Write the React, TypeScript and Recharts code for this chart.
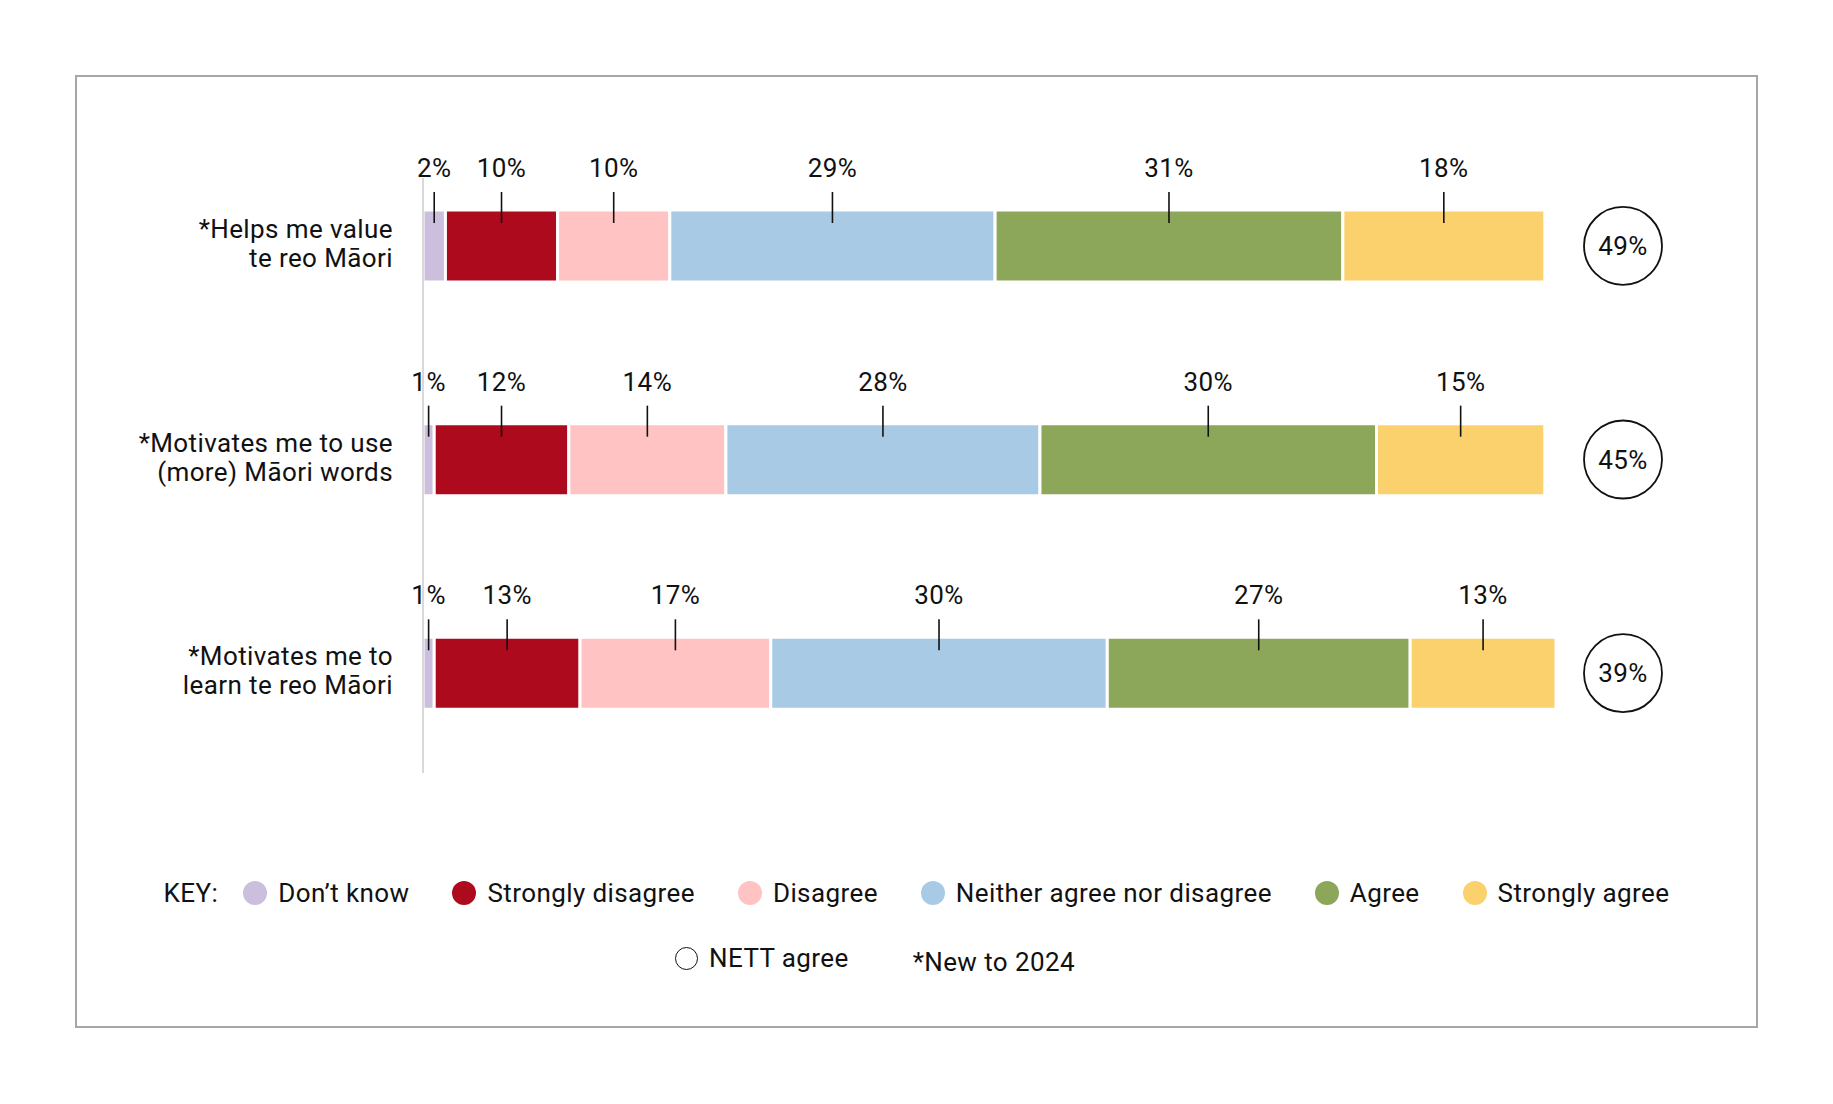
import { BarChart, Bar, XAxis, YAxis, LabelList } from 'recharts';

const FONT = "Roboto, 'Noto Sans', sans-serif";
const INK = '#111111';
const FONT_SIZE = 26;
const TRACKING = 0.4;

const categories = [
  '*Helps me value\nte reo Māori',
  '*Motivates me to use\n(more) Māori words',
  '*Motivates me to\nlearn te reo Māori',
];

// Percent of respondents per answer, one value per statement
const dontKnow = [2, 1, 1];
const stronglyDisagree = [10, 12, 13];
const disagree = [10, 14, 17];
const neither = [29, 28, 30];
const agree = [31, 30, 27];
const stronglyAgree = [18, 15, 13];
const nettAgree = [49, 45, 39];

const seriesKeys = ['dontKnow', 'stronglyDisagree', 'disagree', 'neither', 'agree', 'stronglyAgree'];
const seriesNames = [
  'Don’t know',
  'Strongly disagree',
  'Disagree',
  'Neither agree nor disagree',
  'Agree',
  'Strongly agree',
];
const seriesColors = ['#CBBFDD', '#AD0B1D', '#FFC3C3', '#A9CAE5', '#8DA75A', '#FAD16C'];
const seriesValues = [dontKnow, stronglyDisagree, disagree, neither, agree, stronglyAgree];

const data = categories.map((name, i) => {
  const row: Record<string, string | number> = { name, nett: nettAgree[i] };
  seriesKeys.forEach((key, s) => {
    row[key] = seriesValues[s][i];
  });
  return row;
});

// percentage above each segment, with a short leader line dropping into the bar
const ValueLabel = (props: any) => {
  const { x, y, width, value } = props;
  const cx = Number(x) + Number(width) / 2;
  const top = Number(y);
  return (
    <g>
      <line x1={cx} x2={cx} y1={top - 18} y2={top + 13} stroke={INK} strokeWidth={1.6} />
      <text
        x={cx}
        y={top - 33}
        textAnchor="middle"
        fontSize={FONT_SIZE}
        fontFamily={FONT}
        letterSpacing={TRACKING}
        fill={INK}
      >
        {value}%
      </text>
    </g>
  );
};

// statement text on the left, NETT agree bubble on the right
const CategoryTick = (props: any) => {
  const { x, y, payload, index } = props;
  const lines = String(payload.value).split('\n');
  const i = payload.index ?? index;
  const bubbleX = x + 1200;
  return (
    <g>
      <text
        textAnchor="end"
        fontSize={FONT_SIZE}
        fontFamily={FONT}
        letterSpacing={TRACKING}
        fill={INK}
      >
        {lines.map((line, k) => (
          <tspan key={k} x={x - 30} y={y - 8 + k * 29}>
            {line}
          </tspan>
        ))}
      </text>
      <circle cx={bubbleX} cy={y} r={39} fill="#fff" stroke={INK} strokeWidth={1.8} />
      <text
        x={bubbleX}
        y={y + 9}
        textAnchor="middle"
        fontSize={FONT_SIZE}
        fontFamily={FONT}
        letterSpacing={TRACKING}
        fill={INK}
      >
        {nettAgree[i]}%
      </text>
    </g>
  );
};

const Dot = ({ color, hollow }: { color?: string; hollow?: boolean }) => (
  <span
    style={{
      display: 'inline-block',
      width: hollow ? 21 : 24,
      height: hollow ? 21 : 24,
      borderRadius: '50%',
      background: hollow ? '#fff' : color,
      border: hollow ? `1.8px solid ${INK}` : 'none',
      marginRight: 11,
    }}
  />
);

export default function App() {
  return (
    <div
      style={{
        position: 'absolute',
        left: 0,
        top: 0,
        width: 1833,
        height: 1104,
        background: '#fff',
        fontFamily: FONT,
        letterSpacing: TRACKING,
        color: INK,
      }}
    >
      <div
        style={{
          position: 'absolute',
          left: 75,
          top: 75,
          width: 1683,
          height: 953,
          border: '2px solid #A6A6A6',
          boxSizing: 'border-box',
        }}
      />
      <div style={{ position: 'absolute', left: 0, top: 0 }}>
        <BarChart
          width={1833}
          height={1104}
          data={data}
          layout="vertical"
          margin={{ top: 178, right: 277, bottom: 331, left: 422 }}
          barSize={72}
        >
          <XAxis type="number" hide domain={[0, 'dataMax']} />
          <YAxis
            type="category"
            dataKey="name"
            width={1}
            tickSize={0}
            tickMargin={0}
            tickLine={false}
            interval={0}
            padding={{ top: -39, bottom: -7 }}
            axisLine={{ stroke: '#D9D9D9', strokeWidth: 2 }}
            tick={<CategoryTick />}
          />
          {seriesKeys.map((key, s) => (
            <Bar
              key={key}
              dataKey={key}
              name={seriesNames[s]}
              stackId="answers"
              fill={seriesColors[s]}
              stroke="#fff"
              strokeWidth={3}
              isAnimationActive={false}
            >
              <LabelList dataKey={key} content={<ValueLabel />} />
            </Bar>
          ))}
        </BarChart>
      </div>

      <div
        style={{
          position: 'absolute',
          left: 0,
          top: 873,
          width: 1833,
          height: 40,
          display: 'flex',
          alignItems: 'center',
          justifyContent: 'center',
          fontSize: FONT_SIZE,
          whiteSpace: 'nowrap',
        }}
      >
        <span style={{ marginRight: 25 }}>KEY:</span>
        {seriesNames.map((name, s) => (
          <span
            key={name}
            style={{
              display: 'flex',
              alignItems: 'center',
              marginRight: s === seriesNames.length - 1 ? 0 : 43,
            }}
          >
            <Dot color={seriesColors[s]} />
            {name}
          </span>
        ))}
      </div>

      <div
        style={{
          position: 'absolute',
          left: 675,
          top: 938,
          height: 40,
          display: 'flex',
          alignItems: 'center',
          fontSize: FONT_SIZE,
          whiteSpace: 'nowrap',
        }}
      >
        <span style={{ display: 'flex', alignItems: 'center', marginRight: 64 }}>
          <Dot hollow />
          NETT agree
        </span>
        <span style={{ position: 'relative', top: 4 }}>*New to 2024</span>
      </div>
    </div>
  );
}
